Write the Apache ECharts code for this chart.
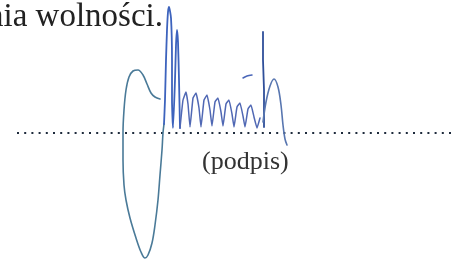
<!DOCTYPE html>
<html>
<head>
<meta charset="utf-8"/>
<title>podpis</title>
<script src="https://cdn.jsdelivr.net/npm/echarts@6/dist/echarts.min.js"></script>
<style>
  html, body { margin: 0; padding: 0; background: #fff; }
  #main { width: 460px; height: 263px; }
</style>
</head>
<body>
<div id="main"></div>
<script type="text/javascript">
// teksty
var topText = 'nia wolności.';
var captionText = '(podpis)';

// linia kropkowana (od - do)
var dottedLine = [[17, 133], [452, 133]];

// pociągnięcia podpisu
var loopStroke = [[160, 99], [155, 97], [151, 93], [147, 84], [143, 75], [138, 70], [133, 71], [129, 77], [126, 90],
  [124, 110], [123, 133], [123, 160], [124, 185], [126, 200], [130, 218], [136, 238], [141, 252], [145, 258],
  [148, 255], [152, 243], [155, 225], [158, 200], [160, 175], [162, 150], [163, 133], [164, 124]];
var spikeStroke = [[164, 124], [165, 100], [166, 60], [167, 30], [168, 12], [169, 7], [171, 18], [172, 60],
  [172, 100], [173, 128], [175, 80], [176, 45], [177, 30], [178, 42], [179, 80], [180, 128]];
var humpStroke = [[180, 128], [183, 100], [186, 92], [188, 104], [190, 127], [193, 98], [196, 93], [199, 108],
  [201, 127], [204, 100], [207, 95], [210, 110], [212, 126], [215, 102], [218, 98], [221, 112], [223, 126],
  [226, 104], [229, 100], [232, 114], [234, 127], [237, 107], [240, 103], [243, 116], [245, 127], [248, 109],
  [251, 105], [254, 117], [257, 128], [260, 118]];
var tallStroke = [[263, 32], [263, 60], [264, 90], [264, 127]];
var hookStroke = [[263, 122], [266, 102], [270, 86], [274, 79], [278, 87], [281, 105], [283, 125], [285, 139], [287, 145]];
var dashStroke = [[243, 78], [247, 76], [252, 75]];

var myChart = echarts.init(document.getElementById('main'));

function stroke(data, color, width, smooth) {
  return {
    type: 'line',
    data: data,
    showSymbol: false,
    smooth: smooth,
    lineStyle: { color: color, width: width, cap: 'round', join: 'round' }
  };
}

var option = {
  animation: false,
  backgroundColor: '#ffffff',
  grid: { left: 0, right: 0, top: 0, bottom: 0 },
  xAxis: { type: 'value', min: 0, max: 460, show: false },
  yAxis: { type: 'value', min: 0, max: 263, inverse: true, show: false },
  graphic: [
    {
      type: 'text', x: -13, y: 1,
      style: { text: topText, font: '33px "Liberation Serif"', fill: '#222222' }
    },
    {
      type: 'text', left: 202, top: 149,
      style: { text: captionText, font: '26px "Liberation Serif"', fill: '#333333' }
    }
  ],
  series: [
    {
      type: 'line',
      data: dottedLine,
      showSymbol: false,
      lineStyle: { color: '#1e2b3c', width: 2.2, type: [2, 5.2], cap: 'butt' }
    },
    stroke(loopStroke, '#4a7a98', 1.6, 0.35),
    stroke(spikeStroke, '#3d63bd', 1.8, 0.2),
    stroke(humpStroke, '#5068b4', 1.5, 0.1),
    stroke(tallStroke, '#2f4f9a', 1.8, 0),
    stroke(hookStroke, '#5876b0', 1.6, 0.35),
    stroke(dashStroke, '#4a66b8', 1.5, 0.3)
  ]
};

myChart.setOption(option);
</script>
</body>
</html>
